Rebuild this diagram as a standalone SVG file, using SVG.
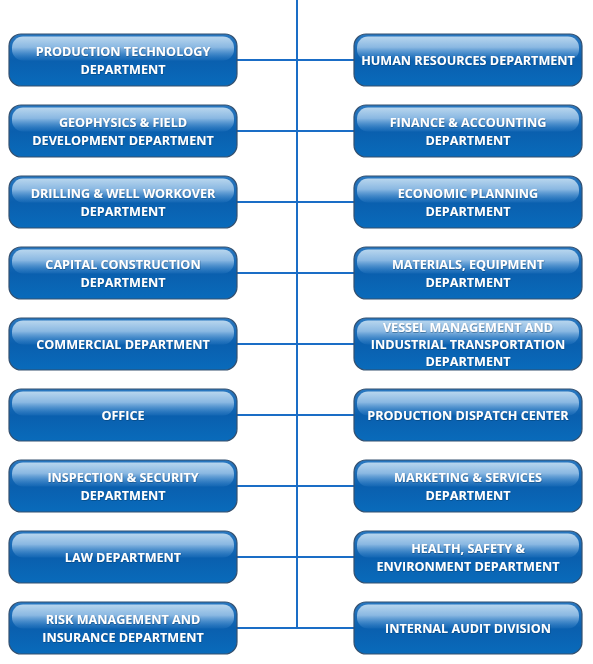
<svg xmlns="http://www.w3.org/2000/svg" width="593" height="664" viewBox="0 0 593 664">
<defs>
<linearGradient id="base" x1="0" y1="0" x2="0" y2="1">
<stop offset="0" stop-color="#2a78c0"/>
<stop offset="0.5" stop-color="#0a5fae"/>
<stop offset="1" stop-color="#096bbb"/>
</linearGradient>
<linearGradient id="gloss" x1="0" y1="0" x2="0" y2="1">
<stop offset="0" stop-color="#b8d6ee"/>
<stop offset="0.45" stop-color="#8ab8e2"/>
<stop offset="1" stop-color="#3a86cc" stop-opacity="0.2"/>
</linearGradient>
<filter id="ts" x="-5%" y="-20%" width="110%" height="140%">
<feDropShadow dx="0.4" dy="0.7" stdDeviation="0.4" flood-color="#06305a" flood-opacity="0.6"/>
</filter>
<g id="box">
<rect x="0" y="0" width="228" height="52" rx="12" ry="12" fill="url(#base)" stroke="#34506f" stroke-width="1.2"/>
<rect x="3" y="2.5" width="222" height="24" rx="11" ry="11" fill="url(#gloss)"/>
</g>
</defs>
<style>
.conn{stroke:#1a6dc6;stroke-width:2;fill:none}
.t{font-family:"Open Sans","Liberation Sans",sans-serif;font-weight:bold;font-size:12.6px;fill:#ffffff;text-anchor:middle;filter:url(#ts)}
</style>
<g id="connectors">
<line class="conn" x1="297" y1="0" x2="297" y2="629"/>
<line class="conn" x1="237" y1="60" x2="354" y2="60"/>
<line class="conn" x1="237" y1="131" x2="354" y2="131"/>
<line class="conn" x1="237" y1="202" x2="354" y2="202"/>
<line class="conn" x1="237" y1="273" x2="354" y2="273"/>
<line class="conn" x1="237" y1="344" x2="354" y2="344"/>
<line class="conn" x1="237" y1="415" x2="354" y2="415"/>
<line class="conn" x1="237" y1="486" x2="354" y2="486"/>
<line class="conn" x1="237" y1="557" x2="354" y2="557"/>
<line class="conn" x1="237" y1="628" x2="354" y2="628"/>
</g>
<g id="n-l1"><use href="#box" x="9" y="34"/><text class="t" x="123" y="56">PRODUCTION TECHNOLOGY</text><text class="t" x="123" y="74">DEPARTMENT</text></g>
<g id="n-l2"><use href="#box" x="9" y="105"/><text class="t" x="123" y="127">GEOPHYSICS &amp; FIELD</text><text class="t" x="123" y="145">DEVELOPMENT DEPARTMENT</text></g>
<g id="n-l3"><use href="#box" x="9" y="176"/><text class="t" x="123" y="198">DRILLING &amp; WELL WORKOVER</text><text class="t" x="123" y="216">DEPARTMENT</text></g>
<g id="n-l4"><use href="#box" x="9" y="247"/><text class="t" x="123" y="269">CAPITAL CONSTRUCTION</text><text class="t" x="123" y="287">DEPARTMENT</text></g>
<g id="n-l5"><use href="#box" x="9" y="318"/><text class="t" x="123" y="349">COMMERCIAL DEPARTMENT</text></g>
<g id="n-l6"><use href="#box" x="9" y="389"/><text class="t" x="123" y="420">OFFICE</text></g>
<g id="n-l7"><use href="#box" x="9" y="460"/><text class="t" x="123" y="482">INSPECTION &amp; SECURITY</text><text class="t" x="123" y="500">DEPARTMENT</text></g>
<g id="n-l8"><use href="#box" x="9" y="531"/><text class="t" x="123" y="562">LAW DEPARTMENT</text></g>
<g id="n-l9"><use href="#box" x="9" y="602"/><text class="t" x="123" y="624">RISK MANAGEMENT AND</text><text class="t" x="123" y="642">INSURANCE DEPARTMENT</text></g>
<g id="n-r1"><use href="#box" x="354" y="34"/><text class="t" x="468" y="65">HUMAN RESOURCES DEPARTMENT</text></g>
<g id="n-r2"><use href="#box" x="354" y="105"/><text class="t" x="468" y="127">FINANCE &amp; ACCOUNTING</text><text class="t" x="468" y="145">DEPARTMENT</text></g>
<g id="n-r3"><use href="#box" x="354" y="176"/><text class="t" x="468" y="198">ECONOMIC PLANNING</text><text class="t" x="468" y="216">DEPARTMENT</text></g>
<g id="n-r4"><use href="#box" x="354" y="247"/><text class="t" x="468" y="269">MATERIALS, EQUIPMENT</text><text class="t" x="468" y="287">DEPARTMENT</text></g>
<g id="n-r5"><use href="#box" x="354" y="318"/><text class="t" x="468" y="332">VESSEL MANAGEMENT AND</text><text class="t" x="468" y="349">INDUSTRIAL TRANSPORTATION</text><text class="t" x="468" y="366">DEPARTMENT</text></g>
<g id="n-r6"><use href="#box" x="354" y="389"/><text class="t" x="468" y="420">PRODUCTION DISPATCH CENTER</text></g>
<g id="n-r7"><use href="#box" x="354" y="460"/><text class="t" x="468" y="482">MARKETING &amp; SERVICES</text><text class="t" x="468" y="500">DEPARTMENT</text></g>
<g id="n-r8"><use href="#box" x="354" y="531"/><text class="t" x="468" y="553">HEALTH, SAFETY &amp;</text><text class="t" x="468" y="571">ENVIRONMENT DEPARTMENT</text></g>
<g id="n-r9"><use href="#box" x="354" y="602"/><text class="t" x="468" y="633">INTERNAL AUDIT DIVISION</text></g>
</svg>
